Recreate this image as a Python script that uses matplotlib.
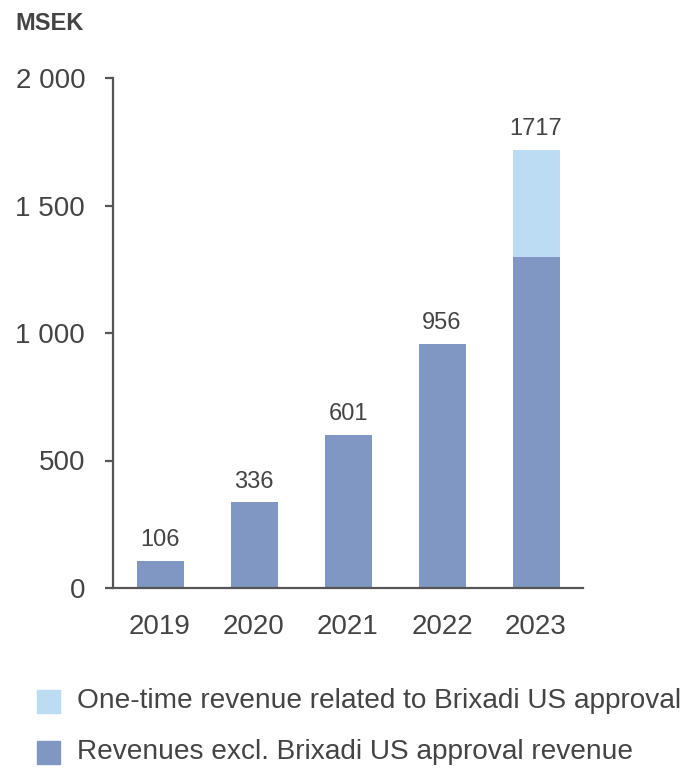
import matplotlib
matplotlib.use("Agg")
import matplotlib.pyplot as plt
from matplotlib.patches import Rectangle
from matplotlib.ticker import FuncFormatter

years = ["2019", "2020", "2021", "2022", "2023"]
base_rev = [106, 336, 601, 956, 1300]
one_time_rev = [0, 0, 0, 0, 417]
totals = [106, 336, 601, 956, 1717]
y_ticks = [0, 500, 1000, 1500, 2000]
legend_labels = ["One-time revenue related to Brixadi US approval",
                 "Revenues excl. Brixadi US approval revenue"]

DARK = "#7f97c2"
LIGHT = "#bcdcf3"
TXT = "#444444"
AX = "#555555"

plt.rcParams["font.family"] = ["Liberation Sans", "DejaVu Sans"]

W, H = 692, 768
fig = plt.figure(figsize=(W / 100, H / 100), dpi=100)
ax = fig.add_axes([113 / W, 1 - 588 / H, 470 / W, 510 / H])

x = range(len(years))
ax.bar(x, base_rev, width=0.5, color=DARK)
ax.bar(x, one_time_rev, width=0.5, bottom=base_rev, color=LIGHT)

for i, t in enumerate(totals):
    ax.annotate(str(t), (i, t), xytext=(0, 7), textcoords="offset points",
                ha="center", va="bottom", fontsize=17, color=TXT)

ax.set_xlim(-0.5, 4.5)
ax.set_ylim(0, 2000)
ax.set_xticks(list(x))
ax.set_xticklabels(years)
ax.set_yticks(y_ticks)
ax.yaxis.set_major_formatter(FuncFormatter(lambda v, p: f"{int(v):,}".replace(",", " ")))

for s in ["top", "right"]:
    ax.spines[s].set_visible(False)
for s in ["left", "bottom"]:
    ax.spines[s].set_color(AX)
    ax.spines[s].set_linewidth(1.6)

ax.tick_params(axis="y", direction="out", length=6, width=1.6, color=AX,
               labelsize=20, labelcolor=TXT, pad=14)
ax.tick_params(axis="x", length=0, labelsize=20, labelcolor=TXT, pad=19)

fig.text(15 / W, 1 - 23.5 / H, "MSEK", fontsize=17, fontweight="bold",
         color=TXT, ha="left", va="center")

# legend drawn by hand: square + label per row
for lab, col, yc in zip(legend_labels, [LIGHT, DARK], [701.5, 752]):
    fig.add_artist(Rectangle((37 / W, 1 - (yc + 11.5) / H), 23 / W, 23 / H,
                             transform=fig.transFigure, color=col))
    fig.text(77 / W, 1 - yc / H, lab, fontsize=20.2, color=TXT,
             ha="left", va="center")

fig.savefig("out.png", dpi=100)
